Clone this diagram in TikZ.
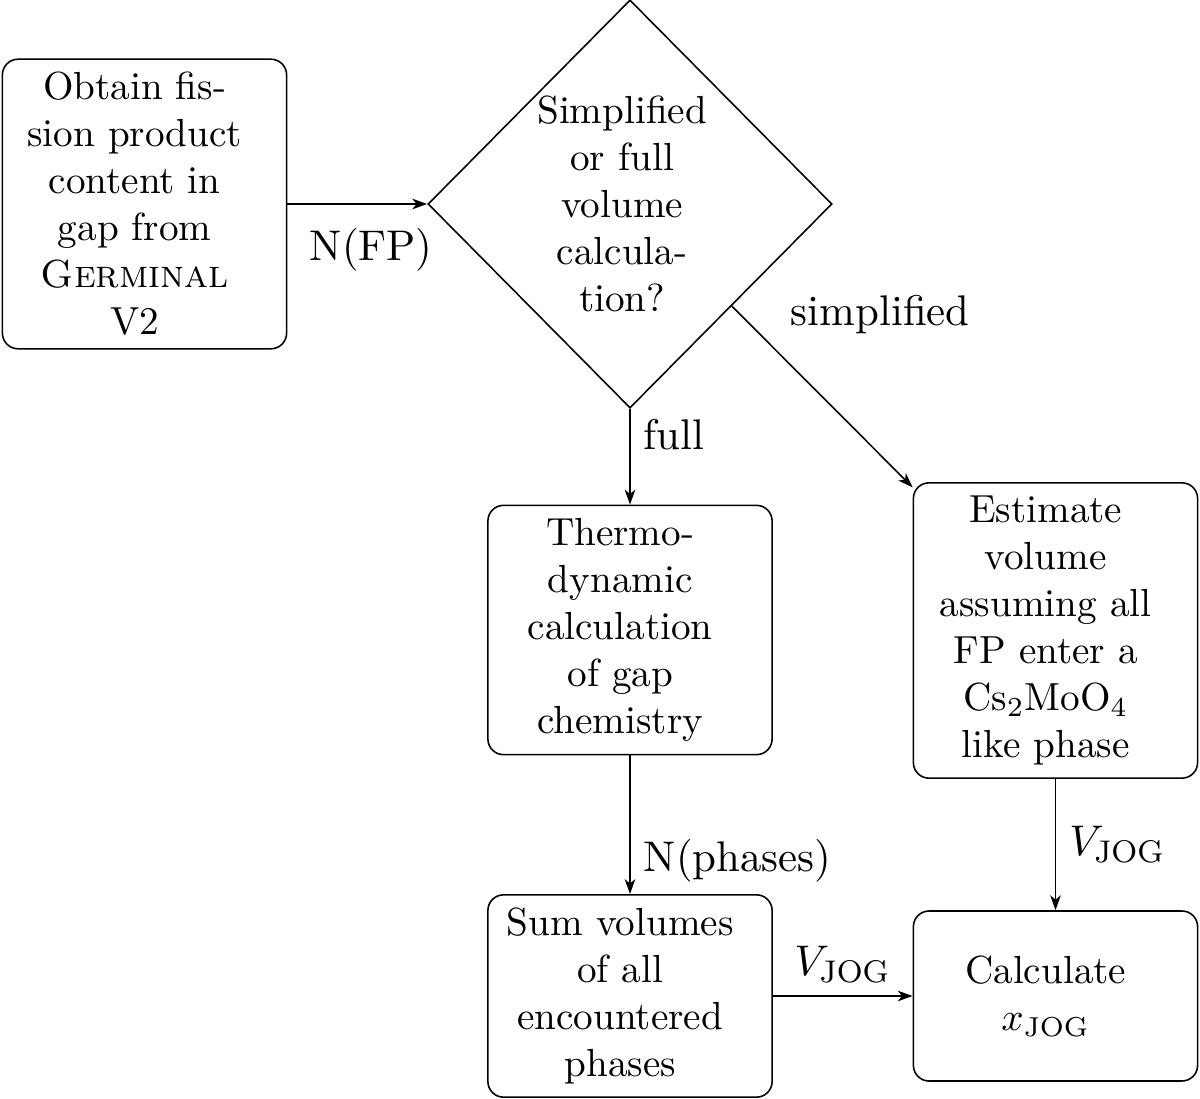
\documentclass[tikz,border=0pt]{standalone}
\usetikzlibrary{shapes.geometric,arrows.meta}
\newcommand\shiftedtext[2]{\advance\rightskip by #1\relax #2\par}
\begin{document}
\begin{tikzpicture}[x=0.2553pt,y=-0.2553pt,
  box/.style={draw, line width=0.4pt, rounded corners=4pt, text width=65.9pt,
    align=center, inner sep=3.33pt},
  decision/.style={draw, line width=0.4pt, diamond, aspect=1, text width=50pt,
    minimum width=103.1pt, minimum height=104.2pt, align=center, inner sep=-0.5pt},
  arr/.style={line width=0.4pt, -{Stealth[length=3.8pt,width=2.7pt,inset=1.1pt]}},
  lbl/.style={inner sep=3.33pt, font=\fontsize{10.95pt}{13.6pt}\selectfont}]
\useasboundingbox (0,0) rectangle (1200,1099);

\node[box] (obtain) at (144.5,204) {\shiftedtext{5pt}{Obtain fis-\\sion product\\content in\\gap from\\\textsc{Germinal}\\V2}};
\node[decision] (dec) at (630,204) {\shiftedtext{4pt}{Simplified\\or full\\volume\\calcula-\\tion?}};
\node[box] (thermo) at (630,630) {\shiftedtext{5pt}{Thermo-\\dynamic\\calculation\\of gap\\chemistry}};
\node[box] (est) at (1055.5,630.5) {\shiftedtext{5pt}{Estimate\\volume\\assuming all\\FP enter a\\Cs$_2$MoO$_4$\\like phase}};
\node[box] (sum) at (630,996) {\shiftedtext{5pt}{Sum volumes\\of all\\encountered\\phases}};
\node[box, minimum height=43.4pt] (calc) at (1055.5,996) {\shiftedtext{5pt}{Calculate\\$x_{\mathrm{JOG}}$}};

\draw[arr] (obtain) -- node[lbl, below, pos=0.6, yshift=-2.8pt] {N(FP)} (dec);
\draw[arr] (dec) -- node[lbl, right, pos=0.27] {full} (thermo);
\draw[arr] (dec) -- node[lbl, above right, pos=0.25, yshift=1pt] {simplified} (est);
\draw[arr] (thermo) -- node[lbl, right, pos=0.76] {N(phases)} (sum);
\draw[arr] (est) -- node[lbl, right] {$V_{\mathrm{JOG}}$} (calc);
\draw[arr] (sum) -- node[lbl, above] {$V_{\mathrm{JOG}}$} (calc);
\end{tikzpicture}
\end{document}
